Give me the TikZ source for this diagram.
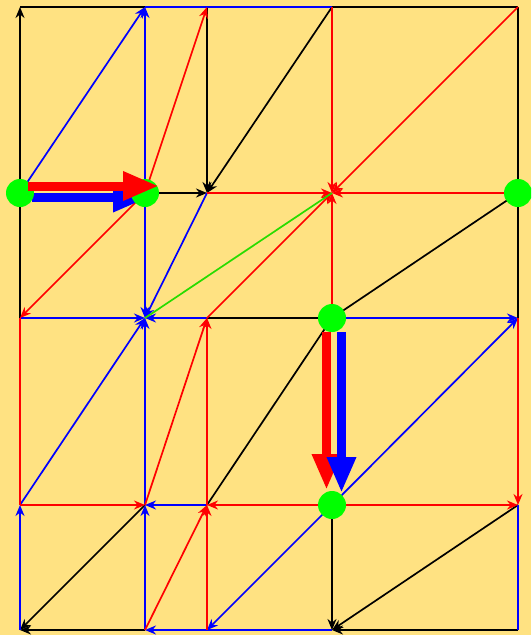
\documentclass[tikz,border=0pt]{standalone}
\usepackage{tikz}
\usetikzlibrary{arrows.meta}

\definecolor{paper}{RGB}{255,226,130}
\definecolor{linkgreen}{RGB}{40,220,0}

\begin{document}
\begin{tikzpicture}[x=1pt, y=-1pt, line width=1.7pt,
    >={Stealth[length=11pt,width=9pt,inset=3.5pt]},
    dot/.style={circle, fill=green, inner sep=0pt, minimum size=28pt},
    fat/.style={line width=9pt, -{Triangle[length=36pt,width=27pt]}}]

    % Background
    \clip (0,0) rectangle (531,635);
    \fill[paper] (0,0) rectangle (531,635);

    % Grid points
    \foreach \c/\x in {a/20, b/145, c/207, d/332, e/518}
    {
        \foreach \r/\y in {1/7, 2/193, 3/318, 4/505, 5/630}
        {
            \coordinate (\c\r) at (\x,\y);
        }
    }

    % Black edges
    \foreach \from/\to in {a1/b1, d1/e1, e1/e2, a2/a3, e2/e3, c3/d3, d3/e2, d3/c4}
        \draw (\from) -- (\to);
    \foreach \from/\to in {a2/a1, c1/c2, d1/c2, b2/c2, b4/a5, b5/a5, d4/d5, e4/d5, e5/d5}
        \draw[->] (\from) -- (\to);

    % Blue edges
    \foreach \from/\to in {b1/d1, d5/c5, e4/e5}
        \draw[blue] (\from) -- (\to);
    \foreach \from/\to in {a2/b1, b2/b1, c2/b3, b2/b3, a3/b3, c3/b3, a4/b3, b4/b3,
        d3/e3, d4/e3, c4/b4, b5/b4, a5/a4, c5/b5, d4/c5}
        \draw[blue, ->] (\from) -- (\to);

    % Red edges
    \draw[red] (a3) -- (a4);
    \foreach \from/\to in {b2/c1, b2/a3, d1/d2, e1/d2, e2/d2, c2/d2, c3/d2, d3/d2,
        a4/b4, d4/c4, d4/e4, e3/e4, c4/c3, b4/c3, b5/c4, c5/c4}
        \draw[red, ->] (\from) -- (\to);

    % Green link
    \draw[linkgreen] (b3) -- (d2);

    % Thick blue move (left)
    \draw[fat, blue] ([xshift=12pt,yshift=-4.5pt]a2) -- ([xshift=4pt,yshift=-4.5pt]b2);

    % Marked points
    \foreach \p in {a2, b2, e2, d3, d4}
        \node[dot] (m\p) at (\p) {};

    % Thick moves on top
    \draw[fat, red] ([xshift=8pt,yshift=7pt]ma2.center) -- ([xshift=14pt,yshift=7pt]mb2.center);
    \draw[fat, red] ([xshift=-5.5pt,yshift=-14pt]md3.center) -- ([xshift=-5.5pt,yshift=15pt]md4.center);
    \draw[fat, blue] ([xshift=9.5pt,yshift=-14pt]md3.center) -- ([xshift=9.5pt,yshift=12pt]md4.center);

\end{tikzpicture}
\end{document}
